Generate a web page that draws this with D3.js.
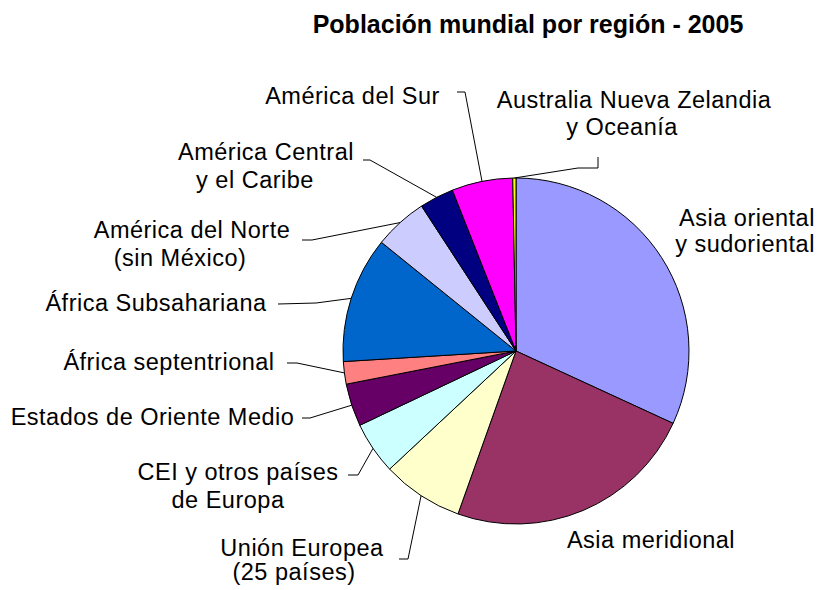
<!DOCTYPE html>
<html lang="es">
<head>
  <meta charset="UTF-8">
  <title>Población mundial por región - 2005</title>
  <script src="https://d3js.org/d3.v7.min.js"></script>
  <style>
    body {
      margin: 0;
      background: #fff;
    }
    svg text {
      font-family: "Liberation Sans", Arial, sans-serif;
      fill: #000;
    }
    .label {
      font-size: 23.5px;
      letter-spacing: 0.5px;
    }
    .title {
      font-size: 25px;
      font-weight: bold;
    }
    .leader {
      fill: none;
      stroke: #000;
      stroke-width: 1;
    }
  </style>
</head>
<body>
<div id="chart"></div>

<script>
  // regions, clockwise from 12 o'clock
  const regions = [
    "Asia oriental y sudoriental",
    "Asia meridional",
    "Unión Europea (25 países)",
    "CEI y otros países de Europa",
    "Estados de Oriente Medio",
    "África septentrional",
    "África Subsahariana",
    "América del Norte (sin México)",
    "América Central y el Caribe",
    "América del Sur",
    "Australia Nueva Zelandia y Oceanía"
  ];
  // share of world population, %
  const shares = [31.9, 23.6, 7.6, 4.9, 4.0, 2.1, 11.8, 5.0, 3.2, 5.7, 0.3];
  const colors = ["#9999ff", "#993366", "#ffffcc", "#ccffff", "#660066", "#ff8080",
                  "#0066cc", "#ccccff", "#000080", "#ff00ff", "#ffff00"];

  const width = 820;
  const height = 590;
  const cx = 516, cy = 351, radius = 173;

  // hand placed labels (like in the original spreadsheet chart)
  const labelLayout = [
    { lines: [["Asia oriental", 747, 226], ["y sudoriental", 745, 252]] },
    { lines: [["Asia meridional", 651, 548]] },
    { lines: [["Unión Europea", 302, 556], ["(25 países)", 294, 580]], leader: [[399, 559], [408, 559]] },
    { lines: [["CEI y otros países", 238, 480], ["de Europa", 228, 508]], leader: [[348, 475], [358, 475]] },
    { lines: [["Estados de Oriente Medio", 152.5, 425]], leader: [[302, 418], [310, 418]] },
    { lines: [["África septentrional", 169, 370]], leader: [[287, 363], [297, 363]] },
    { lines: [["África Subsahariana", 156, 311]], leader: [[278, 304], [316, 303]] },
    { lines: [["América del Norte", 192, 238], ["(sin México)", 180, 266]], leader: [[302, 240], [312, 240]] },
    { lines: [["América Central", 266, 160], ["y el Caribe", 255, 188]], leader: [[363, 160], [370, 160]] },
    { lines: [["América del Sur", 352.5, 104]], leader: [[457, 92], [465, 92]] },
    { lines: [["Australia Nueva Zelandia", 634, 108], ["y Oceanía", 622, 135]], leader: [[598, 157], [598, 168], [578, 168]] }
  ];

  const svg = d3.select("#chart").append("svg")
    .attr("width", width)
    .attr("height", height);

  svg.append("text")
    .attr("class", "title")
    .attr("x", 528)
    .attr("y", 33)
    .attr("text-anchor", "middle")
    .text("Población mundial por región - 2005");

  const pie = d3.pie().sort(null).value(d => d);
  const arcs = pie(shares);

  const arc = d3.arc().innerRadius(0).outerRadius(radius);
  const edge = d3.arc().innerRadius(radius).outerRadius(radius);

  const g = svg.append("g").attr("transform", `translate(${cx},${cy})`);

  g.selectAll("path")
    .data(arcs)
    .join("path")
      .attr("d", arc)
      .attr("fill", (d, i) => colors[i])
      .attr("stroke", "#000")
      .attr("stroke-width", 1)
      .append("title")
      .text((d, i) => `${regions[i]}: ${shares[i]}%`);

  // leader lines: from label to middle of the slice's rim
  const line = d3.line();
  svg.append("g")
    .selectAll("path")
    .data(arcs.filter((d, i) => labelLayout[i].leader))
    .join("path")
      .attr("class", "leader")
      .attr("d", d => {
        const [ex, ey] = edge.centroid(d);
        return line([...labelLayout[d.index].leader, [cx + ex, cy + ey]]);
      });

  // one text per label, one tspan per line
  svg.append("g")
    .selectAll("text")
    .data(labelLayout)
    .join("text")
      .attr("class", "label")
      .attr("text-anchor", "middle")
    .selectAll("tspan")
    .data(d => d.lines)
    .join("tspan")
      .attr("x", d => d[1])
      .attr("y", d => d[2])
      .text(d => d[0]);
</script>

</body>
</html>
